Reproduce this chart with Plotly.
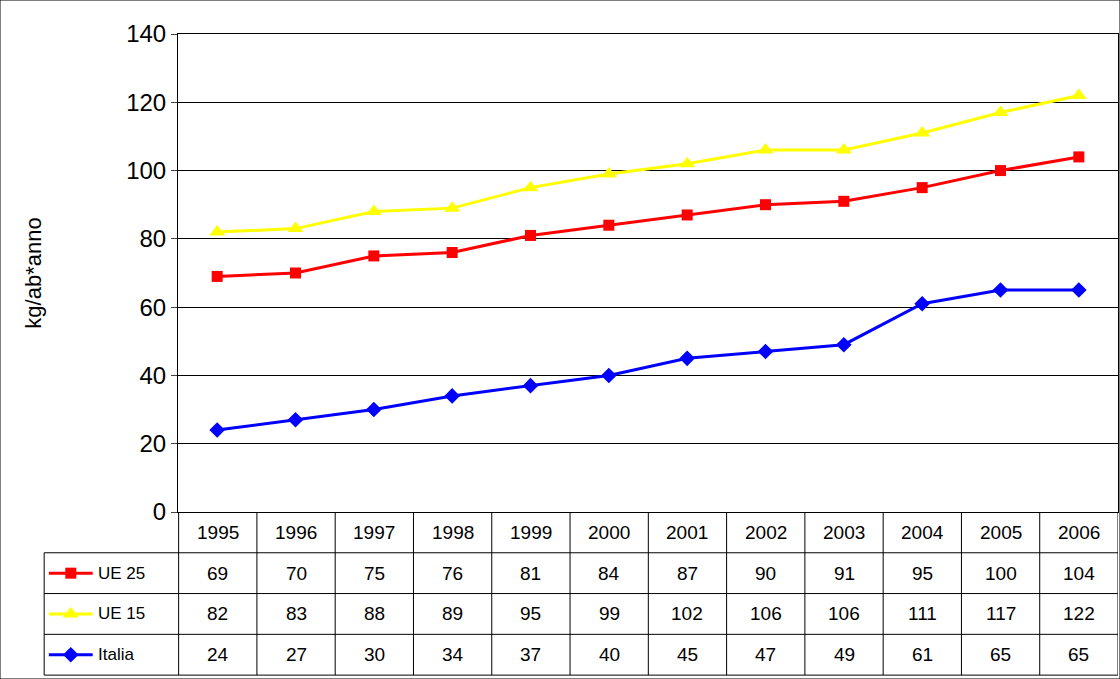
import plotly.graph_objects as go

years = [1995,1996,1997,1998,1999,2000,2001,2002,2003,2004,2005,2006]
ue25 = [69,70,75,76,81,84,87,90,91,95,100,104]
ue15 = [82,83,88,89,95,99,102,106,106,111,117,122]
italia = [24,27,30,34,37,40,45,47,49,61,65,65]
series = [("UE 25", ue25, "#FF0000", "square", 11),
          ("UE 15", ue15, "#FFFF00", "triangle-up", 14),
          ("Italia", italia, "#0000FF", "diamond", 12)]

W, H = 1120, 679
FONT = "Liberation Sans, Arial"
fig = go.Figure()
for name, vals, col, sym, ms in series:
    fig.add_trace(go.Scatter(x=years, y=vals, mode="lines+markers", name=name,
                             line=dict(color=col, width=3),
                             marker=dict(symbol=sym, size=ms, color=col), showlegend=False))

left = years[0] - 0.5 - 134/78
x_lo, x_hi = years[0] - 0.5, years[-1] + 0.5
shapes = []
for i, y in enumerate(years):
    fig.add_annotation(x=y, y=0, xref="x2", yref="y2", text=str(y), showarrow=False,
                       font=dict(family=FONT, size=19, color="black"))
    for r, s in enumerate(series):
        fig.add_annotation(x=y, y=r+1, xref="x2", yref="y2", text=str(s[1][i]), showarrow=False,
                           font=dict(family=FONT, size=19, color="black"))
for b in [i - 0.5 for i in years] + [x_hi]:
    shapes.append(dict(type="line", xref="x2", yref="y2", x0=b, x1=b, y0=-0.5, y1=3.5,
                       line=dict(color="black", width=1)))
shapes.append(dict(type="line", xref="x2", yref="y2", x0=left, x1=left, y0=0.5, y1=3.5,
                   line=dict(color="black", width=1)))
for r in [0.5, 1.5, 2.5, 3.5]:
    shapes.append(dict(type="line", xref="x2", yref="y2", x0=left, x1=x_hi, y0=r, y1=r,
                       line=dict(color="black", width=1)))

for r, (name, vals, col, sym, ms) in enumerate(series):
    fig.add_trace(go.Scatter(x=[left + 0.06, left + 0.62], y=[r+1, r+1], mode="lines",
                             line=dict(color=col, width=3), xaxis="x2", yaxis="y2",
                             showlegend=False, hoverinfo="skip"))
    fig.add_trace(go.Scatter(x=[left + 0.34], y=[r+1], mode="markers",
                             marker=dict(symbol=sym, size=ms, color=col), xaxis="x2", yaxis="y2",
                             showlegend=False, hoverinfo="skip"))
    fig.add_annotation(x=left + 0.66, y=r+1, xref="x2", yref="y2", text=name, showarrow=False,
                       xanchor="left", font=dict(family=FONT, size=17, color="black"))

shapes.append(dict(type="rect", xref="paper", yref="paper", x0=0, y0=0, x1=1, y1=1,
                   line=dict(color="black", width=1)))

fig.update_layout(
    width=W, height=H, margin=dict(l=0, r=0, t=0, b=0, autoexpand=False),
    paper_bgcolor="white", plot_bgcolor="white",
    font=dict(family=FONT, color="black"),
    xaxis=dict(domain=[178/W, 1118/W], range=[x_lo, x_hi], showticklabels=False,
               showgrid=False, zeroline=False, showline=True, linecolor="black", mirror=True, ticks=""),
    yaxis=dict(domain=[(679-512)/H, (679-34)/H], range=[0, 140], dtick=20,
               showgrid=True, gridcolor="black", gridwidth=1, zeroline=False,
               showline=True, linecolor="black", mirror=True, ticks="outside", ticklen=6,
               tickfont=dict(size=24), title=dict(text="kg/ab*anno", font=dict(size=22), standoff=78)),
    xaxis2=dict(domain=[0, 1118/W], range=[left - 44/78, x_hi], visible=False, fixedrange=True),
    yaxis2=dict(domain=[0, (679-512)/H], range=[3.5 + 4/42, -0.5], visible=False, fixedrange=True),
    shapes=shapes,
)
fig.write_html("out.html", config={"displayModeBar": False})
with open("out.html", encoding="utf-8") as f:
    html = f.read()
html = html.replace("<head>", "<head><style>html,body{margin:0;padding:0;overflow:hidden}</style>", 1)
with open("out.html", "w", encoding="utf-8") as f:
    f.write(html)
